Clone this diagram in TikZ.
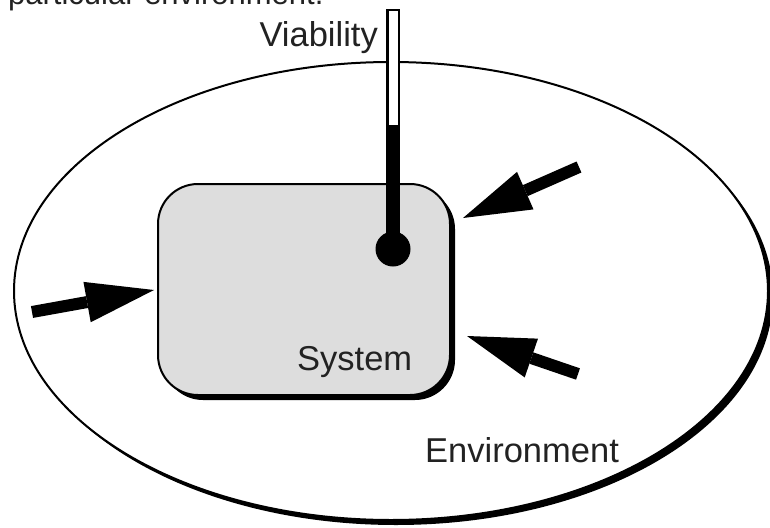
\documentclass[tikz,border=0pt]{standalone}
\usepackage{fontspec}
\setmainfont{Liberation Sans}
\usetikzlibrary{arrows.meta}
\definecolor{boxgray}{RGB}{221,221,221}
\definecolor{txt}{RGB}{34,34,34}
\begin{document}
\begin{tikzpicture}[x=1pt,y=-1pt,
  lbl/.style={inner sep=0pt, font=\fontsize{34.5}{40}\selectfont, text=txt},
  toplbl/.style={inner sep=0pt, font=\fontsize{31}{36}\selectfont, text=txt},
  bigarrow/.style={line width=12pt, -{Triangle[length=68pt,width=41pt,line width=0pt]}},
  outline/.style={draw=black, line width=2pt}]
\useasboundingbox (0,0) rectangle (770,527);
\clip (0,0) rectangle (770,527);
\fill[white] (0,0) rectangle (770,527);
% environment
\fill[black] (396,296) ellipse [x radius=377pt, y radius=229pt];
\filldraw[fill=white, outline] (391,291) ellipse [x radius=377pt, y radius=229pt];
% system box with shadow
\fill[black, rounded corners=40pt] (163,189) rectangle (455,400);
\node[outline, fill=boxgray, rounded corners=40pt, minimum width=292pt, minimum height=211pt, inner sep=0pt] (sys) at (304,289.5) {};
% arrows
\coordinate (t1) at (32,312);  \coordinate (h1) at (154,290);
\coordinate (t2) at (579,167); \coordinate (h2) at (463,218);
\coordinate (t3) at (578,374); \coordinate (h3) at (467,336);
\draw[bigarrow] (t1) -- (h1);
\draw[bigarrow] (t2) -- (h2);
\draw[bigarrow] (t3) -- (h3);
% thermometer
\coordinate (tubetop) at (393,10.25);
\coordinate (bulb) at (393,249);
\filldraw[fill=white, draw=black, line width=2.5pt] (387.25,10.25) rectangle (398.75,249);
\fill[black] (386,125) rectangle (400,249);
\fill[black] (bulb) circle [radius=17.5pt];
% texts
\node[toplbl, anchor=base west] (cap) at (8,5) {particular environment.};
\node[lbl, anchor=base east] (via) at (378,47) {Viability};
\node[lbl, anchor=base west] (systxt) at (297,370) {System};
\node[lbl, anchor=base west] (envtxt) at (425,462) {Environment};
\end{tikzpicture}
\end{document}
